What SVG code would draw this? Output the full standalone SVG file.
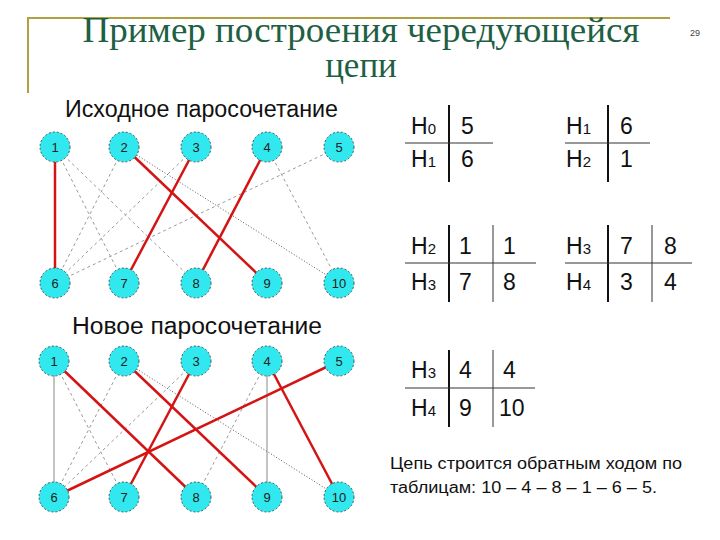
<svg xmlns="http://www.w3.org/2000/svg" width="720" height="540" viewBox="0 0 720 540">
<style>
.title{font-family:"Liberation Serif","Times New Roman",serif;font-size:35px;fill:#1e6044;text-anchor:middle}
.head{font-family:"Liberation Sans",Arial,sans-serif;font-size:23px;fill:#111}
.node circle{fill:#30e8ee;stroke:#333;stroke-width:0.8;stroke-dasharray:2,2}
.node text{font-family:"Liberation Sans",Arial,sans-serif;font-size:13px;fill:#222;text-anchor:middle}
.red{stroke:#d41414;stroke-width:2.5;fill:none}
.dash{stroke:#9a9a9a;stroke-width:1;stroke-dasharray:3,3;fill:none}
.dot{stroke:#555;stroke-width:1;stroke-dasharray:1,2;fill:none}
.thin{stroke:#888;stroke-width:1;fill:none}
.tab{font-family:"Liberation Sans",Arial,sans-serif;font-size:23px;fill:#111}
.sub{font-size:15px}
.tl{stroke:#111;stroke-width:2;fill:none}
.th{stroke:#333;stroke-width:1;fill:none}
.cap{font-family:"Liberation Sans",Arial,sans-serif;font-size:16px;fill:#111}
</style>
<rect width="720" height="540" fill="#fff"/>
<path d="M28,93 V18 H670" stroke="#b0a040" stroke-width="2" fill="none"/>
<text class="title" x="361" y="42" textLength="557" lengthAdjust="spacingAndGlyphs">Пример построения чередующейся</text>
<text class="title" x="361" y="77">цепи</text>
<text x="690" y="36" font-family="Liberation Sans,Arial,sans-serif" font-size="9" fill="#444">29</text>
<text class="head" x="65" y="117" textLength="273" lengthAdjust="spacingAndGlyphs">Исходное паросочетание</text>
<text class="head" x="72" y="334" textLength="250" lengthAdjust="spacingAndGlyphs">Новое паросочетание</text>
<g id="connectors">
<line class="dash" x1="55" y1="147" x2="124" y2="283"/>
<line class="dash" x1="55" y1="147" x2="196" y2="283"/>
<line class="dash" x1="124" y1="147" x2="55" y2="283"/>
<line class="dot" x1="124" y1="147" x2="339" y2="283"/>
<line class="dash" x1="196" y1="147" x2="55" y2="283"/>
<line class="dash" x1="267" y1="147" x2="339" y2="283"/>
<line class="dash" x1="339" y1="147" x2="55" y2="283"/>
<line class="red" x1="55" y1="147" x2="55" y2="283"/>
<line class="red" x1="124" y1="147" x2="267" y2="283"/>
<line class="red" x1="196" y1="147" x2="124" y2="283"/>
<line class="red" x1="267" y1="147" x2="196" y2="283"/>
<line class="dash" x1="54" y1="361" x2="124" y2="497"/>
<line class="dash" x1="124" y1="361" x2="54" y2="497"/>
<line class="dot" x1="124" y1="361" x2="339" y2="497"/>
<line class="dash" x1="196" y1="361" x2="54" y2="497"/>
<line class="dash" x1="267" y1="361" x2="196" y2="497"/>
<line class="thin" x1="54" y1="361" x2="54" y2="497"/>
<line class="thin" x1="267" y1="361" x2="267" y2="497"/>
<line class="red" x1="54" y1="361" x2="196" y2="497"/>
<line class="red" x1="124" y1="361" x2="267" y2="497"/>
<line class="red" x1="196" y1="361" x2="124" y2="497"/>
<line class="red" x1="267" y1="361" x2="339" y2="497"/>
<line class="red" x1="339" y1="361" x2="54" y2="497"/>
</g>
<g id="a1" class="node"><circle cx="55" cy="147" r="15"/><text x="55" y="152">1</text></g>
<g id="a2" class="node"><circle cx="124" cy="147" r="15"/><text x="124" y="152">2</text></g>
<g id="a3" class="node"><circle cx="196" cy="147" r="15"/><text x="196" y="152">3</text></g>
<g id="a4" class="node"><circle cx="267" cy="147" r="15"/><text x="267" y="152">4</text></g>
<g id="a5" class="node"><circle cx="339" cy="147" r="15"/><text x="339" y="152">5</text></g>
<g id="a6" class="node"><circle cx="55" cy="283" r="15"/><text x="55" y="288">6</text></g>
<g id="a7" class="node"><circle cx="124" cy="283" r="15"/><text x="124" y="288">7</text></g>
<g id="a8" class="node"><circle cx="196" cy="283" r="15"/><text x="196" y="288">8</text></g>
<g id="a9" class="node"><circle cx="267" cy="283" r="15"/><text x="267" y="288">9</text></g>
<g id="a10" class="node"><circle cx="339" cy="283" r="15"/><text x="339" y="288">10</text></g>
<g id="b1" class="node"><circle cx="54" cy="361" r="15"/><text x="54" y="366">1</text></g>
<g id="b2" class="node"><circle cx="124" cy="361" r="15"/><text x="124" y="366">2</text></g>
<g id="b3" class="node"><circle cx="196" cy="361" r="15"/><text x="196" y="366">3</text></g>
<g id="b4" class="node"><circle cx="267" cy="361" r="15"/><text x="267" y="366">4</text></g>
<g id="b5" class="node"><circle cx="339" cy="361" r="15"/><text x="339" y="366">5</text></g>
<g id="b6" class="node"><circle cx="54" cy="497" r="15"/><text x="54" y="502">6</text></g>
<g id="b7" class="node"><circle cx="124" cy="497" r="15"/><text x="124" y="502">7</text></g>
<g id="b8" class="node"><circle cx="196" cy="497" r="15"/><text x="196" y="502">8</text></g>
<g id="b9" class="node"><circle cx="267" cy="497" r="15"/><text x="267" y="502">9</text></g>
<g id="b10" class="node"><circle cx="339" cy="497" r="15"/><text x="339" y="502">10</text></g>
<g id="t1">
<path class="tl" d="M449,105 V182"/><path class="th" d="M405,143 H493"/>
<text class="tab" x="411" y="134">H<tspan class="sub">0</tspan></text><text class="tab" x="461" y="134">5</text>
<text class="tab" x="411" y="167">H<tspan class="sub">1</tspan></text><text class="tab" x="461" y="167">6</text>
</g>
<g id="t2">
<path class="tl" d="M608,105 V182"/><path class="th" d="M565,143 H650"/>
<text class="tab" x="566" y="134">H<tspan class="sub">1</tspan></text><text class="tab" x="620" y="134">6</text>
<text class="tab" x="566" y="167">H<tspan class="sub">2</tspan></text><text class="tab" x="620" y="167">1</text>
</g>
<g id="t3">
<path class="tl" d="M449,225 V302"/><path class="th" d="M493,225 V302"/><path class="th" d="M405,263 H536"/>
<text class="tab" x="411" y="254">H<tspan class="sub">2</tspan></text><text class="tab" x="459" y="254">1</text><text class="tab" x="503" y="254">1</text>
<text class="tab" x="411" y="290">H<tspan class="sub">3</tspan></text><text class="tab" x="459" y="290">7</text><text class="tab" x="503" y="290">8</text>
</g>
<g id="t4">
<path class="tl" d="M608,225 V302"/><path class="th" d="M652,225 V302"/><path class="th" d="M565,263 H692"/>
<text class="tab" x="566" y="254">H<tspan class="sub">3</tspan></text><text class="tab" x="620" y="254">7</text><text class="tab" x="664" y="254">8</text>
<text class="tab" x="566" y="290">H<tspan class="sub">4</tspan></text><text class="tab" x="620" y="290">3</text><text class="tab" x="664" y="290">4</text>
</g>
<g id="t5">
<path class="tl" d="M449,350 V427"/><path class="th" d="M493,350 V427"/><path class="th" d="M405,388 H535"/>
<text class="tab" x="411" y="378">H<tspan class="sub">3</tspan></text><text class="tab" x="459" y="378">4</text><text class="tab" x="503" y="378">4</text>
<text class="tab" x="411" y="416">H<tspan class="sub">4</tspan></text><text class="tab" x="459" y="416">9</text><text class="tab" x="499" y="416">10</text>
</g>
<text class="cap" x="390" y="469" textLength="292" lengthAdjust="spacingAndGlyphs">Цепь строится обратным ходом по</text>
<text class="cap" x="390" y="493" textLength="267" lengthAdjust="spacingAndGlyphs">таблицам: 10 – 4 – 8 – 1 – 6 – 5.</text>
</svg>
